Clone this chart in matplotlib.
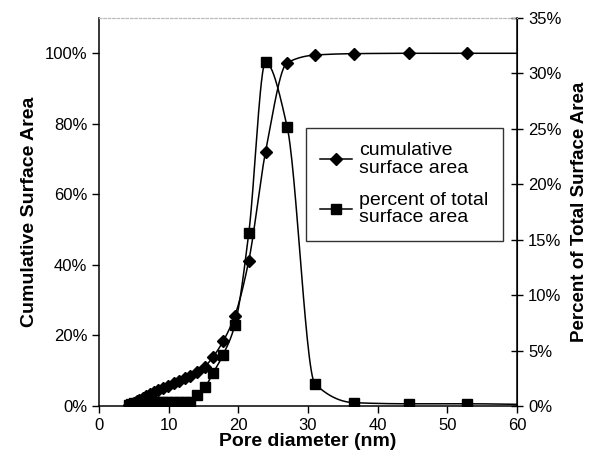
import numpy as np
import matplotlib
matplotlib.use('Agg')
import matplotlib.pyplot as plt
from matplotlib.ticker import PercentFormatter
from matplotlib.lines import Line2D

plt.rcParams['font.family'] = ['Liberation Sans', 'DejaVu Sans']

# pore diameter (nm)
diam = [4.3, 4.6, 5.0, 5.4, 5.8, 6.3, 6.8, 7.3, 7.9, 8.5, 9.2, 9.9, 10.7, 11.5,
        12.3, 13.1, 14.0, 15.2, 16.4, 17.8, 19.5, 21.5, 23.9, 27.0, 31.0, 36.6,
        44.5, 52.8, 65.0]
# cumulative surface area (fraction)
cumul = [0.002, 0.005, 0.009, 0.013, 0.017, 0.022, 0.028, 0.033, 0.039, 0.045,
         0.051, 0.058, 0.065, 0.072, 0.079, 0.086, 0.095, 0.112, 0.140, 0.183,
         0.256, 0.412, 0.720, 0.973, 0.995, 0.999, 1.000, 1.000, 1.000]
# percent of total surface area (fraction)
pct = [0.001, 0.002, 0.0025, 0.003, 0.0032, 0.0034, 0.0035, 0.0036, 0.0036, 0.0036,
       0.0036, 0.0036, 0.0036, 0.0036, 0.0037, 0.004, 0.010, 0.017, 0.030, 0.046,
       0.073, 0.156, 0.310, 0.252, 0.020, 0.003, 0.002, 0.002, 0.001]


def smooth(x, y, n=30):
    # monotone cubic (Fritsch-Carlson) through the points, no overshoot
    x = np.asarray(x, float)
    y = np.asarray(y, float)
    h = np.diff(x)
    d = np.diff(y) / h
    m = np.zeros_like(y)
    m[0], m[-1] = d[0], d[-1]
    for i in range(1, len(x) - 1):
        if d[i - 1] * d[i] <= 0:
            m[i] = 0
        else:
            w1 = 2 * h[i] + h[i - 1]
            w2 = h[i] + 2 * h[i - 1]
            m[i] = (w1 + w2) / (w1 / d[i - 1] + w2 / d[i])
    xs, ys = [], []
    for i in range(len(x) - 1):
        t = np.linspace(0, 1, n)
        h00 = 2 * t ** 3 - 3 * t ** 2 + 1
        h10 = t ** 3 - 2 * t ** 2 + t
        h01 = -2 * t ** 3 + 3 * t ** 2
        h11 = t ** 3 - t ** 2
        xs.append(x[i] + t * h[i])
        ys.append(h00 * y[i] + h10 * h[i] * m[i] + h01 * y[i + 1] + h11 * h[i] * m[i + 1])
    return np.concatenate(xs), np.concatenate(ys)


fig = plt.figure(figsize=(6.05, 4.62), dpi=100)
ax = fig.add_axes([0.1636, 0.1212, 0.691, 0.8398])
ax2 = ax.twinx()

sx, sy = smooth(diam, cumul)
ax.plot(sx, sy, color='black', lw=1.1)
ax.plot(diam, cumul, 'D', color='black', ms=6.5)

px, py = smooth(diam, pct)
ax2.plot(px, py, color='black', lw=1.1)
ax2.plot(diam, pct, 's', color='black', ms=7.5)

ax.set_xlim(0, 60)
ax.set_ylim(0, 1.1)
ax2.set_ylim(0, 0.35)
ax.set_xticks(range(0, 61, 10))
ax.set_yticks(np.arange(0, 1.01, 0.2))
ax2.set_yticks(np.arange(0, 0.351, 0.05))
ax.yaxis.set_major_formatter(PercentFormatter(1.0, decimals=0))
ax2.yaxis.set_major_formatter(PercentFormatter(1.0, decimals=0))

ax.tick_params(axis='both', direction='out', length=5, width=1, labelsize=12, colors='black')
ax2.tick_params(axis='y', direction='inout', length=8, width=1, labelsize=12, pad=4)

for s in ['left', 'bottom']:
    ax.spines[s].set_linewidth(1.1)
ax2.spines['right'].set_linewidth(1.1)
ax2.spines['left'].set_visible(False)
ax2.spines['bottom'].set_visible(False)
for a in (ax, ax2):
    a.spines['top'].set_color('#bbbbbb')
    a.spines['top'].set_linestyle((0, (2, 2)))
    a.spines['top'].set_linewidth(0.8)

ax.set_xlabel('Pore diameter (nm)', fontsize=14, fontweight='bold', labelpad=0)
ax.set_ylabel('Cumulative Surface Area', fontsize=14, fontweight='bold', labelpad=5)
ax2.set_ylabel('Percent of Total Surface Area', fontsize=13.5, fontweight='bold', labelpad=7)

handles = [Line2D([], [], color='black', lw=1.1, marker='D', ms=6),
           Line2D([], [], color='black', lw=1.1, marker='s', ms=7)]
leg = ax2.legend(handles, ['cumulative\nsurface area', 'percent of total\nsurface area'],
                 loc='upper left', bbox_to_anchor=(0.495, 0.717), fontsize=14,
                 frameon=True, fancybox=False, edgecolor='black', handlelength=1.6,
                 handletextpad=0.4, labelspacing=0.75, borderpad=0.75, borderaxespad=0)
leg.get_frame().set_linewidth(1.0)
for t in leg.get_texts():
    t.set_linespacing(1.05)

fig.savefig('out.png', dpi=100)
